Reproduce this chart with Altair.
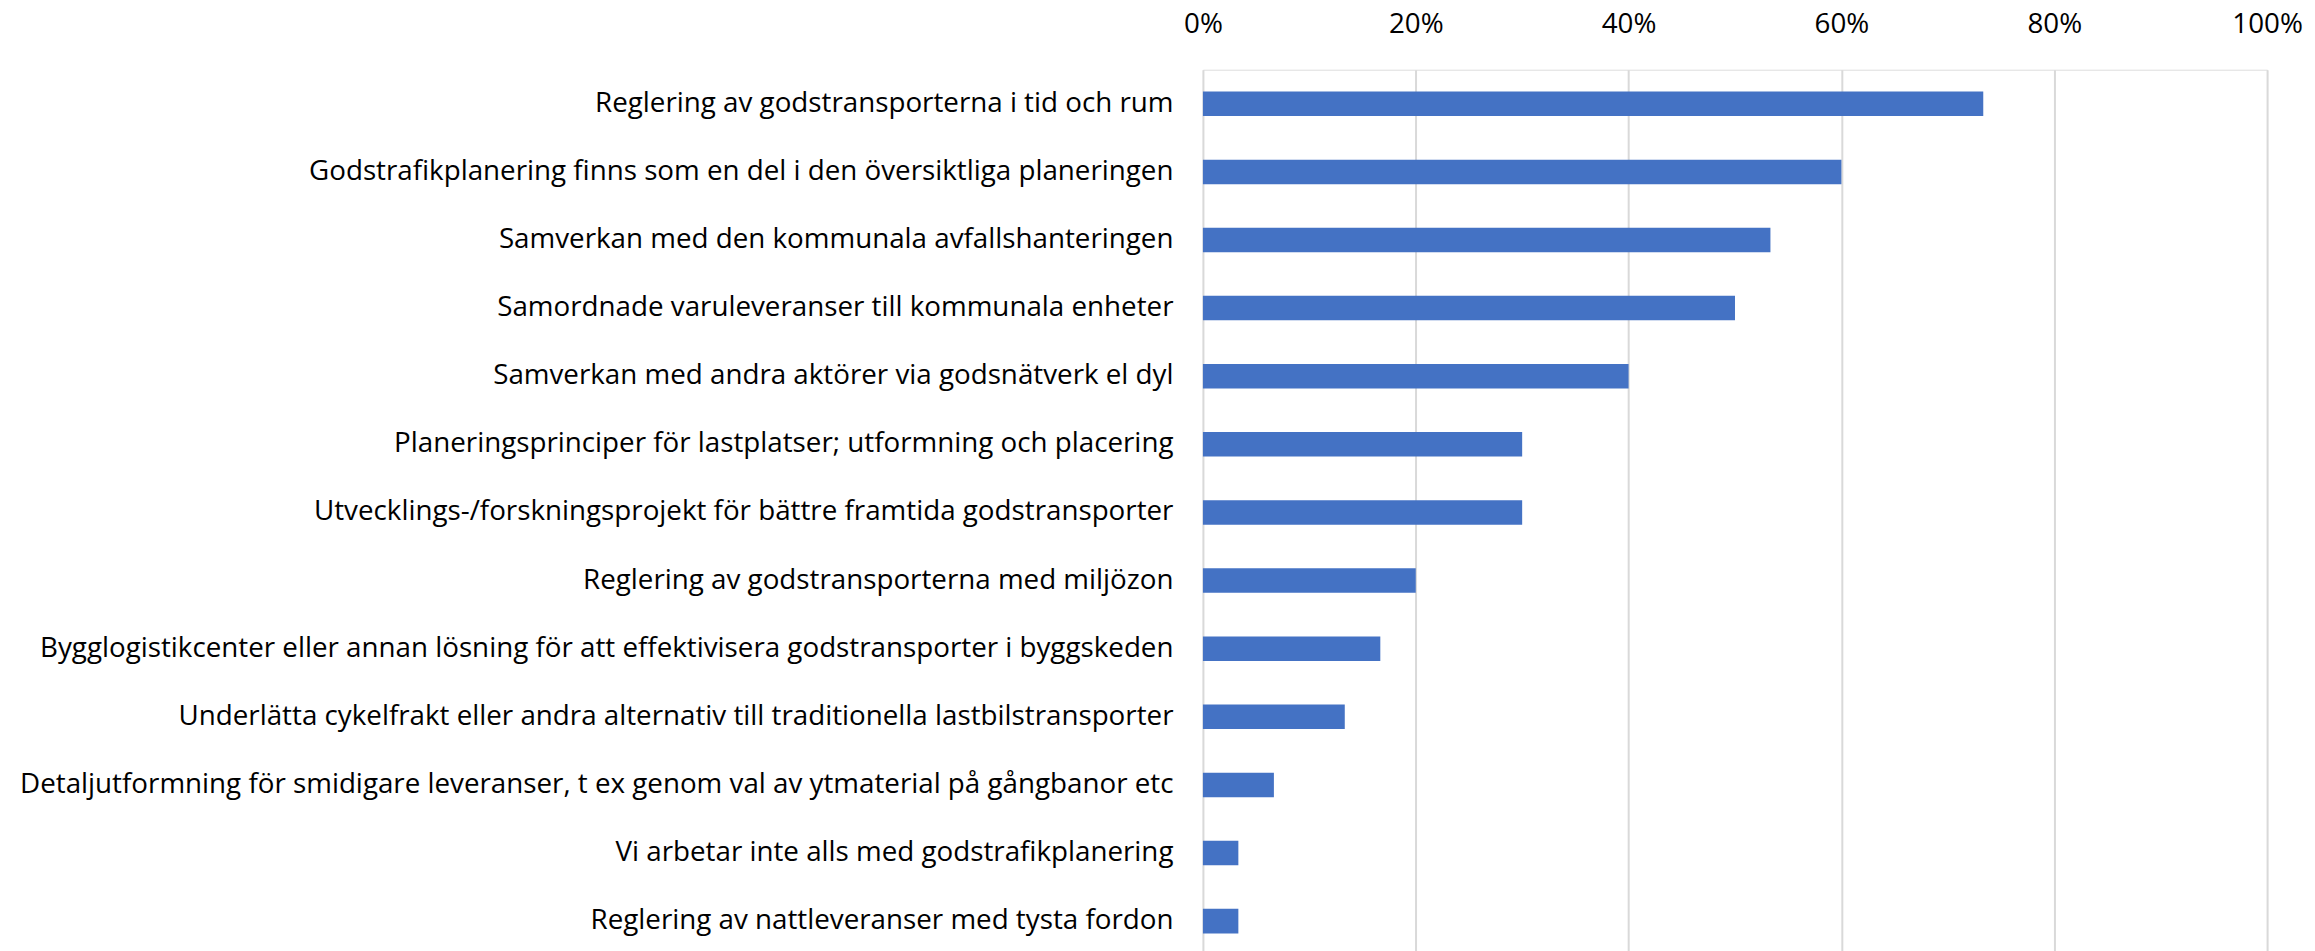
import altair as alt
import pandas as pd

categories = [
    "Reglering av godstransporterna i tid och rum",
    "Godstrafikplanering finns som en del i den översiktliga planeringen",
    "Samverkan med den kommunala avfallshanteringen",
    "Samordnade varuleveranser till kommunala enheter",
    "Samverkan med andra aktörer via godsnätverk el dyl",
    "Planeringsprinciper för lastplatser; utformning och placering",
    "Utvecklings-/forskningsprojekt för bättre framtida godstransporter",
    "Reglering av godstransporterna med miljözon",
    "Bygglogistikcenter eller annan lösning för att effektivisera godstransporter i byggskeden",
    "Underlätta cykelfrakt eller andra alternativ till traditionella lastbilstransporter",
    "Detaljutformning för smidigare leveranser, t ex genom val av ytmaterial på gångbanor etc",
    "Vi arbetar inte alls med godstrafikplanering",
    "Reglering av nattleveranser med tysta fordon",
]
values = [0.7333, 0.6000, 0.5333, 0.5000, 0.4000, 0.3000, 0.3000,
          0.2000, 0.1667, 0.1333, 0.0667, 0.0333, 0.0333]
tick_values = [0, 0.2, 0.4, 0.6, 0.8, 1.0]

df = pd.DataFrame({"category": categories, "value": values})

FONT = "Open Sans"
FS = 27.8

chart = (
    alt.Chart(df)
    .mark_bar(color="#4472C4")
    .encode(
        x=alt.X(
            "value:Q",
            scale=alt.Scale(domain=[0, 1], nice=False, zero=True),
            axis=alt.Axis(
                orient="top",
                values=tick_values,
                format=".0%",
                title=None,
                domain=False,
                ticks=False,
                tickSize=0,
                labelPadding=31,
                labelFont=FONT,
                labelFontSize=FS,
                labelColor="#000000",
                grid=True,
                gridColor="#d9d9d9",
                gridWidth=2,
                labelFlush=False,
            ),
        ),
        y=alt.Y(
            "category:N",
            sort=categories,
            scale=alt.Scale(paddingInner=0.64, paddingOuter=0.32),
            axis=alt.Axis(
                title=None,
                domain=False,
                ticks=False,
                tickSize=0,
                labelPadding=30,
                labelFont=FONT,
                labelFontSize=FS,
                labelColor="#000000",
                labelLimit=2000,
                grid=False,
            ),
        ),
    )
    .properties(
        width=1066,
        height=887,
        autosize=alt.AutoSizeParams(type="none"),
        padding={"left": 1197, "top": 61, "right": 40, "bottom": 0},
    )
    .configure_view(stroke=None)
    .configure(background="white")
)

chart.save("out.html", embed_options={"renderer": "svg", "actions": False})
